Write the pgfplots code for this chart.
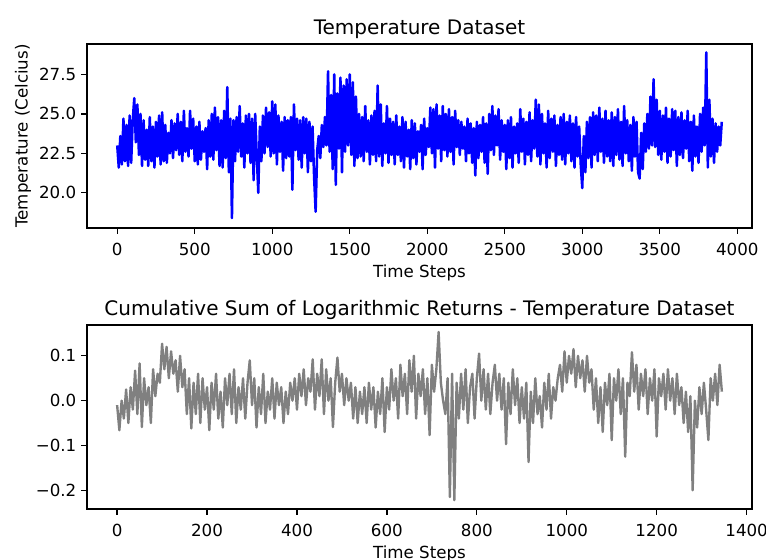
\documentclass[border=0pt]{standalone}
\usepackage{pgfplots}
\pgfplotsset{compat=1.18}
\usepackage{fontspec}
\setmainfont{DejaVu Sans}
\definecolor{mplblue}{RGB}{0,0,255}
\definecolor{mplgray}{RGB}{128,128,128}
\pgfplotsset{
  every axis title shift=0pt,
  mplstyle/.style={
    scale only axis,
    width=478.8pt, height=132.48pt,
    axis line style={black, line width=0.96pt},
    tick align=outside,
    xtick pos=bottom, ytick pos=left,
    major tick length=4.2pt,
    every tick/.style={black, line width=0.96pt},
    tick label style={font=\fontsize{12}{14}\selectfont, black},
    xticklabel style={yshift=-3.5pt},
    label style={font=\fontsize{12}{14}\selectfont},
    title style={font=\fontsize{14.4}{17}\selectfont, at={(0.5,1)}, anchor=base, yshift=7pt},
    xlabel style={yshift=0.8pt},
    clip=true,
  }
}
\begin{document}
\begin{tikzpicture}
\useasboundingbox (0,0) rectangle (551.52pt,402.48pt);
\begin{axis}[mplstyle,
  at={(62.64pt,238.32pt)}, anchor=south west,
  xmin=-195, xmax=4095, ymin=17.77, ymax=29.43,
  xtick={0,500,1000,1500,2000,2500,3000,3500,4000},
  xticklabels={0,500,1000,1500,2000,2500,3000,3500,4000},
  ytick={20,22.5,25,27.5},
  yticklabels={20.0,22.5,25.0,27.5},
  title={Temperature Dataset},
  xlabel={Time Steps},
  ylabel={Temperature (Celcius)},
  ylabel style={yshift=-1pt},
]
\addplot[mplblue, line width=1.8pt, line join=round, mark=none] coordinates {
(0,23.0)(10,21.6)(20,23.6)(30,21.8)(40,24.7)(50,22.0)(60,24.3)(70,21.7)(80,24.9)(90,21.9)(100,24.6)
(110,26.0)(120,23.2)(130,25.6)(140,22.4)(150,25.0)(160,21.7)(170,24.6)(180,22.1)(190,24.0)(200,21.7)
(210,24.8)(220,22.0)(230,24.2)(240,21.6)(250,24.5)(260,22.3)(270,24.9)(280,21.8)(290,25.1)(300,22.0)
(310,24.3)(320,21.9)(330,23.8)(340,22.5)(350,24.6)(360,22.2)(370,24.4)(380,22.7)(390,25.0)(400,22.4)
(410,24.5)(420,22.0)(430,25.2)(440,22.6)(450,24.1)(460,22.3)(470,25.2)(480,22.8)(490,24.7)(500,22.0)
(510,24.2)(520,21.8)(530,24.5)(540,22.1)(550,23.9)(560,22.6)(570,24.1)(580,21.5)(590,24.6)(600,22.3)
(610,25.0)(620,22.1)(630,25.4)(640,22.7)(650,24.8)(660,21.7)(670,24.6)(680,21.6)(690,25.2)(700,22.2)
(710,26.7)(720,21.3)(730,24.7)(740,18.4)(750,24.6)(760,22.0)(770,24.8)(780,22.6)(790,25.5)(800,22.3)
(810,24.4)(820,21.6)(830,24.9)(840,22.5)(850,25.0)(860,21.9)(870,24.7)(880,20.8)(890,25.0)(900,22.4)
(910,20.0)(920,24.2)(930,22.0)(940,24.9)(950,22.5)(960,25.4)(970,22.9)(980,25.1)(990,22.3)(1000,25.8)
(1010,22.5)(1020,25.6)(1030,21.8)(1040,24.9)(1050,22.6)(1060,24.5)(1070,21.4)(1080,24.8)(1090,22.2)(1100,24.6)
(1110,22.3)(1120,24.8)(1130,20.2)(1140,25.6)(1150,22.7)(1160,24.7)(1170,22.1)(1180,24.6)(1190,21.6)(1200,24.8)
(1210,22.5)(1220,24.7)(1230,21.3)(1240,24.5)(1250,22.0)(1260,24.2)(1270,21.0)(1280,18.8)(1290,22.7)(1300,23.6)
(1310,22.2)(1320,24.3)(1330,22.9)(1340,24.8)(1350,23.0)(1360,27.7)(1370,22.6)(1380,26.2)(1390,21.5)(1400,27.5)
(1410,20.5)(1420,26.3)(1430,22.8)(1440,27.3)(1450,21.3)(1460,26.8)(1470,22.6)(1480,27.2)(1490,23.0)(1500,27.5)
(1510,22.4)(1520,27.0)(1530,21.7)(1540,26.1)(1550,22.2)(1560,25.0)(1570,22.3)(1580,24.8)(1590,22.0)(1600,25.5)
(1610,22.6)(1620,24.6)(1630,21.8)(1640,24.9)(1650,22.4)(1660,25.2)(1670,22.0)(1680,26.8)(1690,22.3)(1700,25.6)
(1710,21.7)(1720,24.4)(1730,22.5)(1740,25.5)(1750,21.9)(1760,24.7)(1770,22.4)(1780,24.5)(1790,21.8)(1800,24.9)
(1810,22.4)(1820,24.2)(1830,22.0)(1840,24.8)(1850,21.6)(1860,24.5)(1870,22.3)(1880,24.0)(1890,21.5)(1900,24.6)
(1910,22.2)(1920,24.4)(1930,21.8)(1940,23.9)(1950,22.6)(1960,24.3)(1970,21.5)(1980,24.7)(1990,22.4)(2000,24.1)
(2010,22.9)(2020,25.4)(2030,22.5)(2040,25.3)(2050,21.6)(2060,25.6)(2070,22.8)(2080,24.9)(2090,22.0)(2100,25.5)
(2110,22.7)(2120,25.0)(2130,22.3)(2140,25.3)(2150,22.6)(2160,24.8)(2170,21.8)(2180,25.2)(2190,22.9)(2200,24.6)
(2210,22.4)(2220,24.5)(2230,22.8)(2240,24.2)(2250,22.0)(2260,24.7)(2270,22.5)(2280,24.4)(2290,21.9)(2300,24.1)
(2310,21.1)(2320,24.5)(2330,22.2)(2340,24.3)(2350,22.6)(2360,24.8)(2370,21.9)(2380,24.4)(2390,21.2)(2400,25.0)
(2410,22.7)(2420,25.5)(2430,22.4)(2440,24.9)(2450,23.0)(2460,25.3)(2470,22.1)(2480,24.6)(2490,22.6)(2500,24.3)
(2510,21.5)(2520,24.6)(2530,22.2)(2540,24.8)(2550,21.6)(2560,24.2)(2570,22.5)(2580,24.4)(2590,21.9)(2600,25.3)
(2610,22.6)(2620,24.7)(2630,21.8)(2640,24.5)(2650,22.4)(2660,25.1)(2670,22.0)(2680,24.6)(2690,22.8)(2700,25.9)
(2710,22.3)(2720,25.6)(2730,21.8)(2740,25.0)(2750,22.5)(2760,24.4)(2770,21.6)(2780,25.2)(2790,22.2)(2800,24.7)
(2810,22.6)(2820,24.9)(2830,21.7)(2840,24.3)(2850,22.4)(2860,24.8)(2870,22.1)(2880,25.0)(2890,21.8)(2900,24.5)
(2910,22.5)(2920,24.9)(2930,22.0)(2940,24.4)(2950,21.6)(2960,24.8)(2970,22.3)(2980,24.2)(2990,21.8)(3000,20.3)
(3010,23.6)(3020,21.3)(3030,24.5)(3040,22.2)(3050,24.8)(3060,21.6)(3070,25.1)(3080,22.4)(3090,24.9)(3100,22.0)
(3110,25.4)(3120,22.6)(3130,24.7)(3140,21.9)(3150,25.2)(3160,22.3)(3170,24.6)(3180,22.0)(3190,25.1)(3200,21.7)
(3210,24.8)(3220,22.4)(3230,25.3)(3240,22.1)(3250,24.5)(3260,21.7)(3270,25.5)(3280,22.5)(3290,24.6)(3300,22.0)
(3310,24.3)(3320,21.4)(3330,24.8)(3340,22.3)(3350,24.5)(3360,21.3)(3370,20.9)(3380,23.8)(3390,21.5)(3400,24.4)
(3410,22.6)(3420,25.0)(3430,22.8)(3440,26.1)(3450,23.0)(3460,27.2)(3470,22.9)(3480,25.9)(3490,22.4)(3500,25.2)
(3510,22.1)(3520,24.9)(3530,22.6)(3540,25.4)(3550,21.9)(3560,24.7)(3570,22.3)(3580,25.3)(3590,22.7)(3600,25.2)
(3610,21.7)(3620,24.8)(3630,22.4)(3640,25.1)(3650,22.2)(3660,24.6)(3670,22.8)(3680,25.2)(3690,22.0)(3700,24.5)
(3710,21.4)(3720,24.9)(3730,22.3)(3740,24.2)(3750,21.9)(3760,25.0)(3770,22.6)(3780,25.4)(3790,23.0)(3800,28.9)
(3810,21.6)(3820,25.9)(3830,22.3)(3840,24.7)(3850,21.9)(3860,24.4)(3870,22.6)(3880,24.2)(3890,23.0)(3900,24.5)
};
\end{axis}
\begin{axis}[mplstyle,
  at={(62.64pt,36pt)}, anchor=south west,
  xmin=-67, xmax=1412, ymin=-0.2417, ymax=0.1687,
  xtick={0,200,400,600,800,1000,1200,1400},
  xticklabels={0,200,400,600,800,1000,1200,1400},
  ytick={-0.2,-0.1,0,0.1},
  yticklabels={−0.2,−0.1,0.0,0.1},
  title={Cumulative Sum of Logarithmic Returns - Temperature Dataset},
  xlabel={Time Steps},
]
\addplot[mplgray, line width=1.7pt, line join=round, mark=none] coordinates {
(0,-0.01)(5,-0.066)(10,0.00)(15,-0.04)(20,0.025)(25,-0.05)(30,0.03)(35,-0.02)(40,0.067)(45,-0.03)
(50,0.083)(55,-0.059)(60,0.05)(65,-0.01)(70,0.03)(75,-0.05)(80,0.07)(85,0.01)(90,0.06)(95,0.04)
(100,0.127)(105,0.07)(110,0.12)(115,0.05)(120,0.11)(125,0.06)(130,0.09)(135,0.02)(140,0.10)(145,0.03)
(150,0.07)(155,-0.03)(160,0.05)(165,-0.062)(170,0.04)(175,-0.03)(180,0.06)(185,-0.05)(190,0.05)(195,-0.02)
(200,0.03)(205,-0.066)(210,0.04)(215,-0.02)(220,0.06)(225,-0.04)(230,0.02)(235,-0.06)(240,0.05)(245,-0.01)
(250,0.06)(255,-0.03)(260,0.07)(265,-0.05)(270,0.03)(275,-0.02)(280,0.05)(285,-0.04)(290,0.04)(295,0.09)
(300,-0.01)(305,0.05)(310,-0.06)(315,0.03)(320,-0.03)(325,0.06)(330,-0.05)(335,0.02)(340,-0.02)(345,0.05)
(350,-0.04)(355,0.04)(360,-0.01)(365,0.03)(370,-0.05)(375,0.02)(380,-0.03)(385,0.04)(390,0.00)(395,0.05)
(400,-0.02)(405,0.06)(410,0.01)(415,0.07)(420,-0.01)(425,0.05)(430,0.02)(435,0.092)(440,-0.02)(445,0.06)
(450,0.01)(455,0.092)(460,-0.03)(465,0.07)(470,0.00)(475,0.05)(480,-0.059)(485,0.04)(490,0.096)(495,0.02)
(500,0.06)(505,-0.01)(510,0.05)(515,0.00)(520,0.04)(525,-0.04)(530,0.03)(535,-0.05)(540,0.02)(545,-0.03)
(550,0.03)(555,-0.05)(560,0.04)(565,-0.02)(570,0.03)(575,-0.06)(580,0.02)(585,-0.03)(590,0.05)(595,-0.07)
(600,0.03)(605,-0.02)(610,0.07)(615,0.00)(620,0.05)(625,-0.04)(630,0.08)(635,0.01)(640,0.06)(645,-0.03)
(650,0.09)(655,0.02)(660,0.10)(665,-0.04)(670,0.06)(675,0.01)(680,0.07)(685,-0.03)(690,0.05)(695,-0.077)
(700,0.08)(705,0.02)(710,0.07)(715,0.153)(720,0.04)(725,0.00)(730,-0.03)(735,0.05)(740,-0.215)(745,0.06)
(750,-0.222)(755,0.04)(760,-0.04)(765,0.06)(770,-0.02)(775,0.07)(780,-0.05)(785,0.03)(790,0.06)(795,-0.04)
(800,0.05)(805,0.105)(810,0.00)(815,0.07)(820,-0.02)(825,0.06)(830,-0.03)(835,0.04)(840,0.08)(845,0.00)
(850,0.06)(855,-0.02)(860,0.05)(865,-0.097)(870,0.04)(875,-0.03)(880,0.07)(885,-0.01)(890,0.05)(895,-0.05)
(900,0.03)(905,-0.04)(910,0.04)(915,-0.137)(920,0.02)(925,-0.05)(930,0.05)(935,-0.03)(940,0.01)(945,-0.06)
(950,0.04)(955,-0.02)(960,0.06)(965,-0.04)(970,0.03)(975,0.00)(980,0.05)(985,0.08)(990,0.02)(995,0.11)
(1000,0.04)(1005,0.10)(1010,0.06)(1015,0.115)(1020,0.03)(1025,0.10)(1030,0.05)(1035,0.09)(1040,0.02)(1045,0.10)
(1050,0.04)(1055,0.07)(1060,-0.02)(1065,0.05)(1070,-0.05)(1075,0.03)(1080,-0.07)(1085,0.04)(1090,-0.01)(1095,0.06)
(1100,-0.088)(1105,0.05)(1110,0.00)(1115,0.07)(1120,-0.03)(1125,0.05)(1130,-0.125)(1135,0.04)(1140,0.01)(1145,0.108)
(1150,0.02)(1155,0.08)(1160,-0.02)(1165,0.06)(1170,0.01)(1175,0.07)(1180,-0.03)(1185,0.05)(1190,0.00)(1195,0.07)
(1200,-0.08)(1205,0.05)(1210,0.01)(1215,0.06)(1220,-0.02)(1225,0.07)(1230,0.00)(1235,0.05)(1240,-0.03)(1245,0.06)
(1250,-0.01)(1255,0.03)(1260,-0.05)(1265,0.02)(1270,-0.07)(1275,0.01)(1280,-0.20)(1285,0.00)(1290,-0.06)(1295,0.03)
(1300,-0.03)(1305,0.04)(1310,-0.02)(1315,-0.088)(1320,0.05)(1325,0.00)(1330,0.06)(1335,-0.01)(1340,0.08)(1345,0.02)
};
\end{axis}
\end{tikzpicture}
\end{document}
